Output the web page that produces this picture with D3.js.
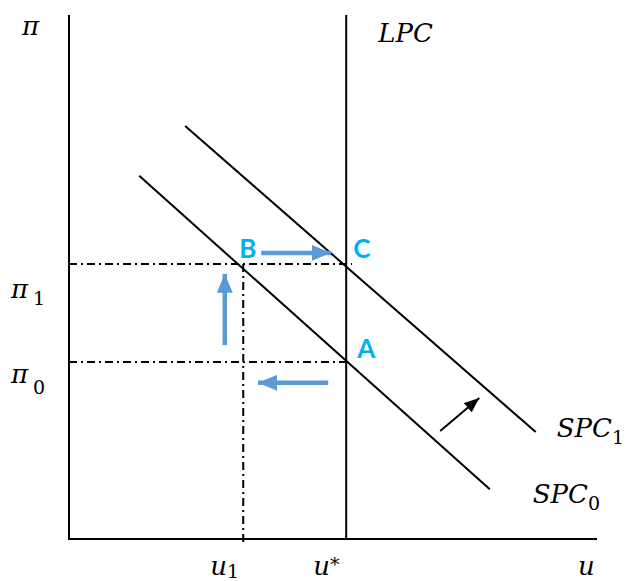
<!DOCTYPE html>
<meta charset="utf-8">
<style>
body{ margin:0; background:#fff; }
.math{ font-family:"DejaVu Serif", "Liberation Serif", serif; font-style:italic; font-size:26px; fill:#000; }
.sub{ font-style:normal; font-size:19px; }
.pt{ font-family:Lato, "Open Sans", sans-serif; font-weight:700; font-size:26px; fill:#00B0F0; }
.guide{ stroke:#000; stroke-width:2; stroke-dasharray:8,4,2,4; fill:none; }
.curve{ stroke:#000; stroke-width:2; fill:none; }
</style>
<body>
<div id="chart"></div>
<script src="https://d3js.org/d3.v7.min.js"></script>
<script>
// economy values (u = unemployment, pi = inflation), arbitrary units 0..10
var uStar = 5.25, u1 = 3.30;
var pi0 = 3.38, pi1 = 5.25;

var spc0 = [[1.33, 6.93], [7.97, 0.95]];
var spc1 = [[2.20, 7.88], [8.84, 2.04]];

// blue movement arrows: [u0, pi0, u1, pi1]
var moves = [
    [4.91, 2.98, 3.58, 2.98],   // left, below A
    [2.95, 3.70, 2.95, 5.06],   // up, towards B
    [3.64, 5.46, 4.96, 5.46]    // B -> C
];
// shift of the short run curve
var shift = [7.03, 2.06, 7.77, 2.69];

var svg = d3.select("#chart").append("svg").attr("width", 626).attr("height", 581);

var x = d3.scaleLinear().domain([0, 10]).range([69, 597]);
var y = d3.scaleLinear().domain([0, 10]).range([539, 15]);

var defs = svg.append("defs");
defs.append("marker").attr("id", "blueHead")
    .attr("markerUnits", "userSpaceOnUse")
    .attr("viewBox", "0 0 19 16").attr("refX", 19).attr("refY", 8)
    .attr("markerWidth", 19).attr("markerHeight", 16).attr("orient", "auto")
    .append("path").attr("d", "M0,0L19,8L0,16Z").attr("fill", "#5B9BD5");
defs.append("marker").attr("id", "blackHead")
    .attr("markerUnits", "userSpaceOnUse")
    .attr("viewBox", "0 0 15 12").attr("refX", 15).attr("refY", 6)
    .attr("markerWidth", 15).attr("markerHeight", 12).attr("orient", "auto")
    .append("path").attr("d", "M0,0L15,6L0,12Z").attr("fill", "#000");

// guide lines
svg.append("line").attr("class", "guide")
    .attr("x1", x(0)).attr("x2", x(5.36)).attr("y1", y(pi1)).attr("y2", y(pi1));
svg.append("line").attr("class", "guide")
    .attr("x1", x(0)).attr("x2", x(uStar)).attr("y1", y(pi0)).attr("y2", y(pi0));
svg.append("line").attr("class", "guide")
    .attr("x1", x(u1)).attr("x2", x(u1)).attr("y1", y(pi1)).attr("y2", y(-0.08));

// axes
svg.append("line").attr("class", "curve")
    .attr("x1", x(0)).attr("x2", x(0)).attr("y1", y(10)).attr("y2", y(0) + 1);
svg.append("line").attr("class", "curve")
    .attr("x1", x(0)).attr("x2", x(10)).attr("y1", y(0)).attr("y2", y(0));

// long run phillips curve
svg.append("line").attr("class", "curve")
    .attr("x1", x(uStar)).attr("x2", x(uStar)).attr("y1", y(10)).attr("y2", y(0));

// short run phillips curves
var line = d3.line().x(d => x(d[0])).y(d => y(d[1]));
[spc0, spc1].forEach(function(c){
    svg.append("path").attr("class", "curve").attr("d", line(c));
});

// arrows
svg.selectAll(".move").data(moves).enter().append("line").attr("class", "move")
    .attr("x1", d => x(d[0])).attr("y1", d => y(d[1]))
    .attr("x2", d => x(d[2])).attr("y2", d => y(d[3]))
    .attr("stroke", "#5B9BD5").attr("stroke-width", 4.5)
    .attr("marker-end", "url(#blueHead)");

svg.append("line")
    .attr("x1", x(shift[0])).attr("y1", y(shift[1]))
    .attr("x2", x(shift[2])).attr("y2", y(shift[3]))
    .attr("stroke", "#000").attr("stroke-width", 2)
    .attr("marker-end", "url(#blackHead)");

// labels
function mathLabel(px, py, main, sub, dx, dy){
    var t = svg.append("text").attr("class", "math").attr("x", px).attr("y", py).text(main);
    if (sub) t.append("tspan").attr("class", "sub").attr("dx", dx || 0).attr("dy", dy || 0).text(sub);
    return t;
}
mathLabel(x(0) - 47, y(10) + 20, "π");
mathLabel(x(uStar) + 32, y(10) + 27, "LPC");
mathLabel(x(0) - 58, y(pi1) + 34, "π", "1", 5, 7);
mathLabel(x(0) - 58, y(pi0) + 21, "π", "0", 5, 11);
mathLabel(x(spc1[1][0]) + 21, y(spc1[1][1]) + 5, "SPC", "1", 0, 7);
mathLabel(x(spc0[1][0]) + 43, y(spc0[1][1]) + 14, "SPC", "0", 0, 7);
mathLabel(x(u1) - 33, y(0) + 36, "u", "1", 0, 3);
mathLabel(x(uStar) - 33, y(0) + 36, "u", "*", 0, -4);
mathLabel(x(10) - 19, y(0) + 36, "u");

svg.append("text").attr("class", "pt").attr("x", x(u1) - 4).attr("y", y(pi1) - 6).text("B");
svg.append("text").attr("class", "pt").attr("x", x(uStar) + 7).attr("y", y(pi1) - 6).text("C");
svg.append("text").attr("class", "pt").attr("x", x(uStar) + 11).attr("y", y(pi0) - 4).text("A");
</script>
</body>
